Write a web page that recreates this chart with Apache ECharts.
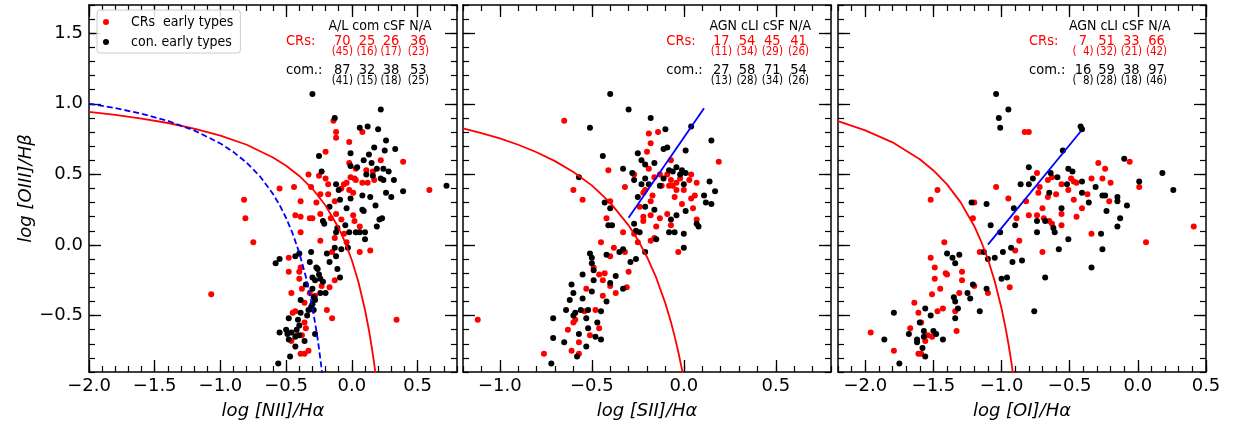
<!DOCTYPE html>
<html><head><meta charset="utf-8">
<script src="https://cdn.jsdelivr.net/npm/echarts@6/dist/echarts.min.js"></script>
<style>html,body{margin:0;padding:0;background:#fff}#c{width:1237px;height:428px}</style>
</head><body><div id="c"></div>
<script>
// ---------------- data ----------------
const xRanges = [[-2.0, 0.8], [-1.2, 0.8], [-2.2, 0.5]];
const yRange = [-0.9, 1.7];
const xMajorTicks = [[-2.0, -1.5, -1.0, -0.5, 0.0, 0.5], [-1.0, -0.5, 0.0, 0.5], [-2.0, -1.5, -1.0, -0.5, 0.0, 0.5]];
const yMajorTicks = [-0.5, 0.0, 0.5, 1.0, 1.5];
const xNames = ['log [NII]/H\u03b1', 'log [SII]/H\u03b1', 'log [OI]/H\u03b1'];
const yName = 'log [OIII]/H\u03b2';
const seriesNames = ['CRs  early types', 'con. early types'];

const headers = ['A/L com cSF N/A', 'AGN cLI cSF N/A', 'AGN cLI cSF N/A'];
const crsCounts = [[70, 25, 26, 36], [17, 54, 45, 41], [7, 51, 33, 66]];
const crsPct = [[45, 16, 17, 23], [11, 34, 29, 26], [4, 32, 21, 42]];
const comCounts = [[87, 32, 38, 53], [27, 58, 71, 54], [16, 59, 38, 97]];
const comPct = [[41, 15, 18, 25], [13, 28, 34, 26], [8, 28, 18, 46]];

// demarcation curves (sampled points)
const p1Kewley = [[-2.0,0.943],[-1.8,0.921],[-1.6,0.895],[-1.4,0.864],[-1.2,0.825],[-1.0,0.775],[-0.8,0.710],[-0.6,0.620],[-0.5,0.561],[-0.4,0.489],[-0.3,0.398],[-0.2,0.280],[-0.1,0.120],[-0.05,0.017],[0.0,-0.108],[0.05,-0.262],[0.1,-0.459],[0.13,-0.604],[0.15,-0.716],[0.17,-0.843],[0.18,-0.913]];
const p1Kauffmann = [[-2.0,1.002],[-1.8,0.970],[-1.6,0.930],[-1.4,0.879],[-1.2,0.812],[-1.0,0.719],[-0.9,0.658],[-0.8,0.582],[-0.7,0.487],[-0.6,0.362],[-0.55,0.283],[-0.5,0.191],[-0.45,0.080],[-0.4,-0.056],[-0.35,-0.225],[-0.3,-0.443],[-0.27,-0.606],[-0.25,-0.733],[-0.23,-0.879],[-0.22,-0.959]];
const p2Kewley = [[-1.2,0.826],[-1.1,0.793],[-1.0,0.755],[-0.9,0.710],[-0.8,0.657],[-0.7,0.594],[-0.6,0.517],[-0.5,0.422],[-0.4,0.300],[-0.3,0.139],[-0.25,0.037],[-0.2,-0.085],[-0.15,-0.232],[-0.1,-0.414],[-0.07,-0.546],[-0.05,-0.646],[-0.03,-0.757],[-0.01,-0.882],[0.0,-0.95]];
const p2Seyfert = [[-0.30,0.193],[0.11,0.968]];
const p3Kewley = [[-2.2,0.877],[-2.0,0.812],[-1.8,0.727],[-1.6,0.607],[-1.5,0.528],[-1.4,0.429],[-1.3,0.302],[-1.2,0.133],[-1.15,0.026],[-1.1,-0.101],[-1.05,-0.257],[-1.0,-0.450],[-0.97,-0.591],[-0.95,-0.698],[-0.93,-0.817],[-0.91,-0.951]];
const p3Seyfert = [[-1.10,0.002],[-0.42,0.804]];

// scatter points
const p1CRs = [[-0.14,0.88],[-0.12,0.80],[-0.12,0.76],[0.08,0.80],[-0.02,0.73],[-0.20,0.66],[0.22,0.60],[0.39,0.59],[-0.02,0.58],[0.03,0.54],[0.11,0.53],[0.16,0.52],[0.17,0.46],[0.12,0.44],[-0.33,0.50],[-0.25,0.49],[-0.20,0.47],[-0.31,0.41],[-0.06,0.43],[-0.01,0.48],[0.02,0.47],[0.03,0.46],[0.08,0.44],[-0.04,0.44],[-0.18,0.43],[-0.08,0.40],[-0.02,0.39],[0.01,0.37],[-0.55,0.40],[-0.44,0.41],[-0.82,0.32],[-0.81,0.19],[-0.75,0.02],[-0.39,0.31],[-0.43,0.21],[-0.39,0.20],[-0.32,0.19],[-0.30,0.19],[-0.24,0.22],[-0.39,0.09],[-0.27,0.30],[-0.24,0.36],[-0.18,0.36],[-0.13,0.31],[-0.16,0.19],[-0.12,0.22],[-0.08,0.18],[0.01,0.21],[0.02,0.17],[0.06,0.13],[-0.06,0.08],[-0.13,0.05],[-0.24,0.03],[-0.04,0.02],[0.06,-0.05],[0.14,-0.04],[-0.15,-0.05],[-0.48,-0.09],[-0.39,-0.16],[-0.40,-0.19],[-0.48,-0.19],[-0.40,-0.24],[-0.13,-0.25],[-0.17,-0.30],[-0.23,-0.29],[-0.38,-0.31],[-0.46,-0.34],[-0.32,-0.34],[-0.28,-0.36],[-0.36,-0.41],[-0.43,-0.47],[-0.45,-0.48],[-0.19,-0.46],[-0.15,-0.52],[0.34,-0.53],[-0.36,-0.55],[-0.35,-0.59],[-0.42,-0.64],[-0.38,-0.64],[-0.46,-0.68],[-0.39,-0.77],[-0.36,-0.77],[-0.33,-0.75],[0.59,0.39],[-1.07,-0.35]];
const p1Con = [[-0.30,1.07],[0.22,0.96],[-0.13,0.90],[0.06,0.83],[0.12,0.84],[0.20,0.82],[0.26,0.74],[0.33,0.68],[0.17,0.69],[0.25,0.67],[-0.25,0.63],[-0.01,0.65],[0.13,0.64],[0.09,0.60],[0.15,0.58],[-0.01,0.56],[-0.23,0.52],[0.04,0.55],[0.19,0.54],[0.24,0.54],[0.28,0.52],[0.11,0.50],[0.16,0.49],[0.22,0.47],[0.32,0.46],[0.24,0.46],[-0.12,0.43],[-0.10,0.39],[0.08,0.35],[0.14,0.34],[0.30,0.34],[0.39,0.38],[0.26,0.37],[0.18,0.28],[-0.17,0.27],[-0.09,0.32],[-0.01,0.33],[-0.04,0.26],[0.08,0.25],[0.09,0.24],[0.23,0.19],[0.21,0.18],[0.19,0.13],[-0.22,0.17],[-0.21,0.15],[-0.05,0.14],[-0.11,0.12],[-0.12,0.09],[-0.02,0.09],[0.03,0.09],[0.06,0.09],[0.10,0.09],[0.10,0.04],[-0.13,-0.02],[-0.08,-0.03],[-0.03,-0.02],[-0.19,-0.06],[-0.12,-0.08],[-0.17,-0.12],[-0.31,-0.05],[-0.40,-0.06],[-0.43,-0.08],[-0.55,-0.10],[-0.58,-0.13],[-0.32,-0.12],[-0.27,-0.16],[-0.26,-0.17],[-0.25,-0.21],[-0.30,-0.23],[-0.28,-0.25],[-0.24,-0.24],[-0.22,-0.26],[-0.11,-0.17],[-0.09,-0.23],[-0.35,-0.28],[-0.30,-0.31],[-0.24,-0.34],[-0.20,-0.34],[-0.39,-0.39],[-0.29,-0.37],[-0.28,-0.39],[-0.30,-0.42],[-0.31,-0.44],[-0.33,-0.46],[-0.29,-0.46],[-0.39,-0.48],[-0.34,-0.50],[-0.41,-0.53],[-0.48,-0.52],[-0.40,-0.57],[-0.50,-0.60],[-0.42,-0.60],[-0.46,-0.62],[-0.55,-0.62],[-0.49,-0.63],[-0.40,-0.64],[-0.28,-0.63],[-0.48,-0.67],[-0.43,-0.65],[-0.36,-0.68],[-0.43,-0.72],[-0.47,-0.79],[-0.56,-0.84],[0.72,0.42]];
const p2CRs = [[-0.65,0.88],[-0.19,0.79],[-0.14,0.80],[-0.18,0.72],[-0.20,0.66],[-0.07,0.60],[-0.19,0.54],[-0.41,0.53],[0.19,0.59],[-0.13,0.50],[-0.16,0.48],[-0.27,0.50],[-0.32,0.41],[-0.60,0.39],[-0.55,0.32],[-0.40,0.31],[-0.09,0.50],[-0.07,0.46],[-0.02,0.47],[0.03,0.46],[0.04,0.50],[0.07,0.44],[-0.12,0.42],[-0.08,0.42],[-0.06,0.42],[-0.04,0.44],[-0.04,0.39],[0.00,0.39],[0.04,0.33],[0.06,0.35],[-0.21,0.39],[-0.22,0.37],[-0.17,0.35],[-0.18,0.31],[-0.24,0.27],[-0.22,0.20],[-0.22,0.17],[-0.18,0.21],[-0.13,0.19],[-0.09,0.22],[-0.07,0.14],[-0.05,0.34],[-0.01,0.29],[0.05,0.26],[0.07,0.18],[-0.15,0.13],[-0.33,0.09],[-0.42,0.19],[-0.27,0.08],[-0.25,0.02],[-0.18,0.03],[-0.16,0.05],[-0.03,-0.05],[-0.45,0.02],[-0.38,-0.02],[-0.40,-0.08],[-0.32,-0.05],[-0.30,-0.19],[-0.43,-0.20],[-0.46,-0.21],[-0.49,-0.16],[-0.44,-0.25],[-0.40,-0.29],[-0.31,-0.30],[-0.53,-0.31],[-0.37,-0.34],[-0.44,-0.36],[-0.54,-0.47],[-0.48,-0.46],[-0.59,-0.53],[-0.60,-0.55],[-0.46,-0.59],[-0.63,-0.60],[-0.51,-0.64],[-0.57,-0.69],[-0.61,-0.75],[-0.57,-0.77],[-0.76,-0.77],[-1.12,-0.53]];
const p2Con = [[-0.40,1.07],[-0.30,0.96],[-0.18,0.90],[-0.51,0.83],[-0.10,0.82],[0.04,0.84],[0.15,0.74],[-0.11,0.68],[-0.09,0.69],[0.01,0.67],[-0.44,0.63],[-0.25,0.65],[-0.23,0.60],[-0.16,0.58],[-0.21,0.57],[-0.04,0.55],[-0.33,0.54],[-0.28,0.51],[-0.57,0.48],[-0.21,0.47],[-0.27,0.46],[-0.08,0.53],[-0.06,0.52],[-0.01,0.53],[-0.02,0.50],[0.01,0.51],[-0.11,0.47],[-0.23,0.43],[-0.19,0.43],[-0.13,0.42],[0.00,0.43],[0.14,0.45],[0.17,0.38],[0.11,0.35],[0.12,0.30],[0.15,0.29],[-0.25,0.34],[-0.21,0.27],[-0.16,0.25],[-0.43,0.30],[-0.40,0.26],[-0.41,0.14],[-0.39,0.14],[-0.27,0.15],[-0.26,0.10],[-0.24,0.09],[-0.07,0.18],[-0.04,0.21],[0.01,0.24],[0.07,0.15],[0.08,0.13],[-0.08,0.09],[-0.05,0.09],[0.00,0.08],[-0.15,0.04],[0.00,-0.02],[-0.21,-0.05],[-0.26,-0.10],[-0.29,-0.12],[-0.33,-0.03],[-0.35,-0.05],[-0.42,-0.07],[-0.51,-0.06],[-0.50,-0.09],[-0.50,-0.13],[-0.49,-0.18],[-0.55,-0.21],[-0.49,-0.25],[-0.37,-0.22],[-0.40,-0.27],[-0.61,-0.28],[-0.60,-0.34],[-0.55,-0.38],[-0.50,-0.33],[-0.42,-0.40],[-0.33,-0.31],[-0.62,-0.39],[-0.64,-0.46],[-0.59,-0.48],[-0.56,-0.46],[-0.52,-0.46],[-0.45,-0.47],[-0.71,-0.52],[-0.60,-0.50],[-0.53,-0.52],[-0.47,-0.55],[-0.52,-0.59],[-0.57,-0.63],[-0.48,-0.65],[-0.45,-0.67],[-0.71,-0.66],[-0.65,-0.69],[-0.53,-0.72],[-0.58,-0.79],[-0.72,-0.84]];
const p3CRs = [[-0.83,0.80],[-0.80,0.80],[-1.47,0.39],[-1.52,0.32],[-1.20,0.30],[-1.21,0.19],[-1.04,0.41],[-0.95,0.33],[-0.82,0.31],[-0.74,0.51],[-0.72,0.41],[-0.73,0.37],[-0.66,0.46],[-0.63,0.48],[-0.66,0.34],[-0.56,0.43],[-0.49,0.47],[-0.47,0.45],[-0.45,0.44],[-0.51,0.39],[-0.47,0.32],[-0.37,0.36],[-0.41,0.26],[-0.34,0.47],[-0.29,0.58],[-0.24,0.54],[-0.26,0.47],[-0.20,0.44],[-0.21,0.31],[-0.06,0.59],[0.01,0.41],[0.06,0.02],[0.41,0.13],[-0.34,0.08],[-0.45,0.20],[-0.56,0.14],[-0.56,0.22],[-0.70,0.26],[-0.74,0.21],[-0.69,0.19],[-0.80,0.21],[-0.65,0.17],[-0.63,0.15],[-0.60,0.36],[-0.89,0.19],[-0.87,0.03],[-0.90,-0.04],[-0.70,-0.05],[-0.94,-0.30],[-1.16,-0.05],[-1.20,-0.29],[-1.10,-0.34],[-1.29,-0.19],[-1.29,-0.25],[-1.31,-0.34],[-1.42,0.02],[-1.41,-0.20],[-1.40,-0.21],[-1.49,-0.16],[-1.49,-0.24],[-1.51,-0.35],[-1.45,-0.31],[-1.43,-0.45],[-1.47,-0.47],[-1.52,-0.09],[-1.34,-0.47],[-1.33,-0.61],[-1.64,-0.41],[-1.61,-0.48],[-1.59,-0.55],[-1.67,-0.59],[-1.54,-0.64],[-1.51,-0.65],[-1.56,-0.68],[-1.61,-0.77],[-1.59,-0.77],[-1.79,-0.75],[-1.96,-0.62]];
const p3Con = [[-1.04,1.07],[-0.95,0.96],[-1.02,0.90],[-1.01,0.83],[-0.42,0.84],[-0.41,0.82],[-0.55,0.67],[-0.10,0.61],[-0.80,0.55],[-0.77,0.47],[-0.86,0.43],[-0.80,0.43],[-0.64,0.51],[-0.59,0.48],[-0.51,0.54],[-0.48,0.52],[-0.52,0.43],[-0.65,0.37],[-0.41,0.45],[-0.41,0.37],[-0.36,0.30],[-0.31,0.41],[-0.26,0.35],[-0.24,0.35],[-0.23,0.24],[-0.15,0.34],[-0.15,0.31],[-0.08,0.28],[-0.13,0.19],[-0.15,0.13],[0.01,0.45],[0.18,0.51],[0.26,0.39],[-1.22,0.30],[-1.11,0.29],[-0.91,0.26],[-0.90,0.14],[-1.08,0.14],[-1.01,0.09],[-0.68,0.17],[-0.56,0.26],[-0.62,0.12],[-0.61,0.09],[-0.74,0.09],[-0.51,0.04],[-0.58,-0.03],[-0.74,0.17],[-1.13,-0.05],[-1.10,-0.10],[-1.05,-0.09],[-0.99,-0.05],[-0.93,-0.02],[-0.92,-0.12],[-0.85,-0.11],[-1.00,-0.24],[-0.96,-0.23],[-0.76,-0.47],[-0.68,-0.23],[-0.34,-0.16],[-0.27,0.08],[-0.26,-0.03],[-1.40,-0.06],[-1.36,-0.09],[-1.31,-0.07],[-1.34,-0.13],[-1.11,-0.31],[-1.21,-0.28],[-1.23,-0.38],[-1.25,-0.34],[-1.35,-0.37],[-1.34,-0.40],[-1.32,-0.45],[-1.16,-0.47],[-1.34,-0.52],[-1.56,-0.45],[-1.52,-0.50],[-1.79,-0.48],[-1.86,-0.67],[-1.75,-0.84],[-1.68,-0.63],[-1.62,-0.67],[-1.62,-0.69],[-1.60,-0.55],[-1.57,-0.61],[-1.57,-0.65],[-1.56,-0.79],[-1.58,-0.73],[-1.50,-0.61],[-1.48,-0.63],[-1.43,-0.67]];

const crsData = [p1CRs, p2CRs, p3CRs];
const conData = [p1Con, p2Con, p3Con];
const redCurves = [p1Kewley, p2Kewley, p3Kewley];
const blueLines = [p1Kauffmann, p2Seyfert, p3Seyfert];

// ---------------- layout ----------------
const FONT = 'DejaVu Sans';
const ANNOT_FONT = '"DejaVu Sans Condensed", "DejaVu Sans"';
const gridLefts = [89, 463, 838];
const GRID_TOP = 5, GRID_W = 368, GRID_H = 367;
const colX = [[342.3, 367, 391, 418.3], [721.3, 747, 772.3, 798.5], [1083, 1106.5, 1131.3, 1156.5]];
const headerX = [380, 760.3, 1119.7];
const rowLabelX = [286, 666.3, 1029];
const ROW_Y = {hdr: 26.5, crs: 41.7, crsPct: 52.5, com: 70.3, comPct: 80.8};

function fmt(v) {
  const s = Math.abs(v).toFixed(1);
  return (v < -1e-9 ? '\u2212' : '') + s;
}

const grids = [], xAxes = [], yAxes = [], series = [], texts = [];
for (let p = 0; p < 3; p++) {
  grids.push({left: gridLefts[p], top: GRID_TOP, width: GRID_W, height: GRID_H, containLabel: false});
  const [xmin, xmax] = xRanges[p];
  ['bottom', 'top'].forEach(pos => {
    xAxes.push({
      type: 'value', gridIndex: p, position: pos, min: xmin, max: xmax, interval: 0.1,
      axisLine: {show: true, onZero: false, lineStyle: {color: '#000', width: 1.5}},
      axisTick: {show: true, inside: true, length: 6, lineStyle: {color: '#000', width: 1.2}},
      axisLabel: {show: pos === 'bottom', customValues: xMajorTicks[p], formatter: fmt, margin: 5,
        fontSize: 18, color: '#000', fontFamily: FONT},
      splitLine: {show: false},
      name: pos === 'bottom' ? xNames[p] : '', nameLocation: 'middle', nameGap: 30,
      nameTextStyle: {fontSize: 18, fontStyle: 'italic', color: '#000', fontFamily: FONT}
    });
    xAxes.push({
      type: 'value', gridIndex: p, position: pos, min: xmin, max: xmax, interval: 0.1,
      axisLine: {show: false, onZero: false},
      axisTick: {show: true, inside: true, length: 12, customValues: xMajorTicks[p], lineStyle: {color: '#000', width: 1.3}},
      axisLabel: {show: false}, splitLine: {show: false}
    });
  });
  ['left', 'right'].forEach(pos => {
    yAxes.push({
      type: 'value', gridIndex: p, position: pos, min: yRange[0], max: yRange[1], interval: 0.1,
      axisLine: {show: true, onZero: false, lineStyle: {color: '#000', width: 1.5}},
      axisTick: {show: true, inside: true, length: 6, lineStyle: {color: '#000', width: 1.2}},
      axisLabel: {show: pos === 'left' && p === 0, customValues: yMajorTicks, formatter: fmt, margin: 6,
        fontSize: 18, color: '#000', fontFamily: FONT},
      splitLine: {show: false},
      name: (pos === 'left' && p === 0) ? yName : '', nameLocation: 'middle', nameGap: 50,
      nameTextStyle: {fontSize: 18, fontStyle: 'italic', color: '#000', fontFamily: FONT}
    });
    yAxes.push({
      type: 'value', gridIndex: p, position: pos, min: yRange[0], max: yRange[1], interval: 0.1,
      axisLine: {show: false, onZero: false},
      axisTick: {show: true, inside: true, length: 12, customValues: yMajorTicks, lineStyle: {color: '#000', width: 1.3}},
      axisLabel: {show: false}, splitLine: {show: false}
    });
  });

  series.push({type: 'scatter', name: seriesNames[0], xAxisIndex: 4 * p, yAxisIndex: 4 * p,
    data: crsData[p], symbol: 'circle', symbolSize: 6, itemStyle: {color: '#ff0000', opacity: 1}, z: 2, silent: true});
  series.push({type: 'scatter', name: seriesNames[1], xAxisIndex: 4 * p, yAxisIndex: 4 * p,
    data: conData[p], symbol: 'circle', symbolSize: 6, itemStyle: {color: '#000000', opacity: 1}, z: 2, silent: true});
  series.push({type: 'line', name: 'kewley' + p, xAxisIndex: 4 * p, yAxisIndex: 4 * p, data: redCurves[p],
    symbol: 'none', showSymbol: false, clip: true, lineStyle: {color: '#ff0000', width: 1.8}, z: 3, silent: true});
  series.push({type: 'line', name: 'blue' + p, xAxisIndex: 4 * p, yAxisIndex: 4 * p, data: blueLines[p],
    symbol: 'none', showSymbol: false, clip: true,
    lineStyle: {color: '#0000ff', width: 1.8, type: p === 0 ? [6, 3] : 'solid'}, z: 3, silent: true});

  // annotation texts
  const t = (text, x, y, color, size, align) => texts.push({type: 'text', x: x, y: y, silent: true, z: 10,
    style: {text: text, fill: color, fontSize: size, fontFamily: ANNOT_FONT, align: align, verticalAlign: 'middle'}});
  t(headers[p], headerX[p], ROW_Y.hdr, '#000', 14, 'center');
  t('CRs:', rowLabelX[p], ROW_Y.crs, '#ff0000', 14.5, 'left');
  t('com.:', rowLabelX[p], ROW_Y.com, '#000', 14.5, 'left');
  for (let k = 0; k < 4; k++) {
    const pad = n => '(' + (n < 10 ? '\u2007' : '') + n + ')';
    t(String(crsCounts[p][k]), colX[p][k], ROW_Y.crs, '#ff0000', 14.5, 'center');
    t(pad(crsPct[p][k]), colX[p][k], ROW_Y.crsPct, '#ff0000', 11.5, 'center');
    t(String(comCounts[p][k]), colX[p][k], ROW_Y.com, '#000', 14.5, 'center');
    t(pad(comPct[p][k]), colX[p][k], ROW_Y.comPct, '#000', 11.5, 'center');
  }
}

const chart = echarts.init(document.getElementById('c'), null, {renderer: 'canvas'});
chart.setOption({
  animation: false,
  backgroundColor: '#ffffff',
  grid: grids,
  xAxis: xAxes,
  yAxis: yAxes,
  legend: {
    data: seriesNames, left: 97, top: 10, orient: 'vertical',
    icon: 'circle', itemWidth: 24, itemHeight: 6, itemGap: 6,
    padding: [5, 7, 4, 6], backgroundColor: 'rgba(255,255,255,0.85)',
    borderColor: '#cccccc', borderWidth: 1, borderRadius: 3,
    textStyle: {fontSize: 14, color: '#000', fontFamily: ANNOT_FONT, lineHeight: 14, padding: [0, 0, 0, 8]},
    selectedMode: false
  },
  graphic: {elements: texts},
  series: series
});
</script>
</body></html>
